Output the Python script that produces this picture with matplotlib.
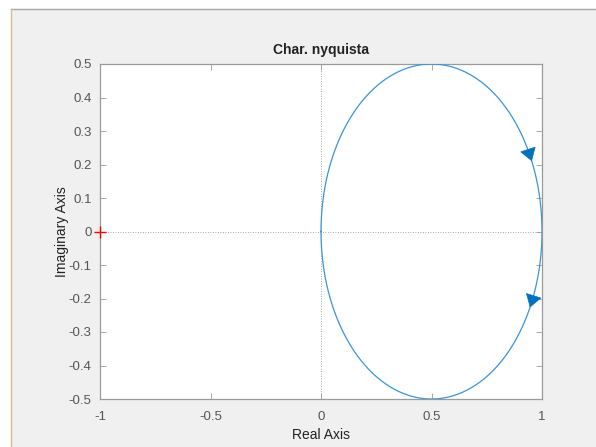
import numpy as np
import matplotlib
matplotlib.use("Agg")
import matplotlib.pyplot as plt
from matplotlib.patches import Rectangle
from matplotlib.lines import Line2D

plt.rcParams['font.family'] = ['Liberation Sans', 'DejaVu Sans']
plt.rcParams['axes.unicode_minus'] = False

# Transfer function G(s) = 1 / (s + 1)
num = [1.0]
den = [1.0, 1.0]
# frequencies (rad/s) where the direction arrows sit
arrow_w = [-0.22, 0.24]

x_ticks = [-1, -0.5, 0, 0.5, 1]
y_ticks = [-0.5, -0.4, -0.3, -0.2, -0.1, 0, 0.1, 0.2, 0.3, 0.4, 0.5]
title = "Char. nyquista"
line_color = '#3d94d6'
arrow_color = '#0072BD'


def freq_resp(w):
    s = 1j * np.asarray(w, dtype=float)
    return np.polyval(num, s) / np.polyval(den, s)


w_pos = np.concatenate([[0.0], np.logspace(-3, 4, 2000)])
w_all = np.concatenate([-w_pos[::-1], w_pos])
G = freq_resp(w_all)

fig = plt.figure(figsize=(5.96, 4.47), dpi=100, facecolor='white')
# window background with its frame edges
fig.patches.append(Rectangle((11 / 596, 0), 1, 1 - 9 / 447, transform=fig.transFigure,
                             facecolor='#f0f0f0', edgecolor='none', zorder=-10))
fig.lines.append(Line2D([11 / 596, 1], [1 - 9 / 447] * 2, transform=fig.transFigure,
                        color='#a8a8a8', lw=1.0))
fig.lines.append(Line2D([11 / 596] * 2, [0, 1 - 9 / 447], transform=fig.transFigure,
                        color='#d8bf8c', lw=1.0))

ax = fig.add_axes([100 / 596, 1 - 399 / 447, 442 / 596, 335 / 447])
ax.set_facecolor('white')

ax.axhline(0, color='#8a8a8a', lw=0.6, ls=(0, (1, 2)), zorder=1)
ax.axvline(0, color='#8a8a8a', lw=0.6, ls=(0, (1, 2)), zorder=1)

ax.plot(G.real, G.imag, color=line_color, lw=0.9, zorder=3)

for wa in arrow_w:
    tip = freq_resp(wa)
    tail = freq_resp(wa - 0.03)
    ax.annotate('', xy=(tip.real, tip.imag), xytext=(tail.real, tail.imag),
                arrowprops=dict(arrowstyle='-|>,head_length=0.7,head_width=0.45',
                                color=arrow_color, lw=0.5, shrinkA=0, shrinkB=0,
                                mutation_scale=12), zorder=4)

ax.plot([-1], [0], marker='+', color='red', ms=9, mew=1.0, zorder=5, clip_on=False)

ax.set_xlim(-1, 1)
ax.set_ylim(-0.5, 0.5)
ax.set_xticks(x_ticks)
ax.set_yticks(y_ticks)
ax.set_xticklabels(['%g' % v for v in x_ticks])
ax.set_yticklabels(['%g' % v for v in y_ticks])
ax.tick_params(direction='in', length=4, width=0.6, colors='#9a9a9a',
               labelcolor='#555555', labelsize=9.5, top=True, right=True, pad=6)
ax.tick_params(axis='x', pad=9)
for sp in ax.spines.values():
    sp.set_color('#9a9a9a')
    sp.set_linewidth(0.9)

ax.set_title(title, fontsize=10, fontweight='bold', color='#222222', pad=7)
ax.set_xlabel('Real Axis', fontsize=10, color='#222222', labelpad=3)
ax.set_ylabel('Imaginary Axis', fontsize=10, color='#222222', labelpad=0)

fig.savefig('out.png', dpi=100, facecolor=fig.get_facecolor())
